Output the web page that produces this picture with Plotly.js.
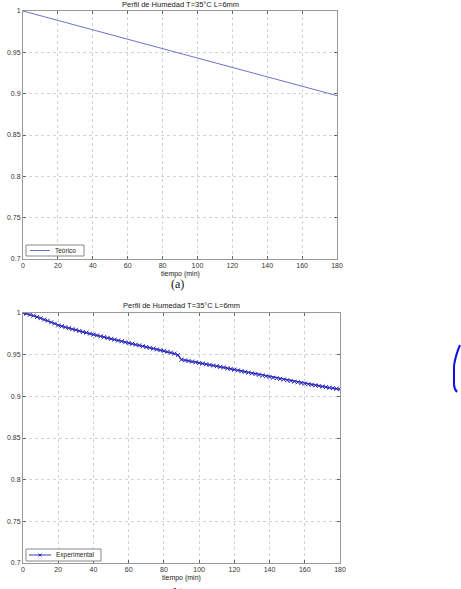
<!DOCTYPE html>
<html><head><meta charset="utf-8">
<script src="https://cdn.plot.ly/plotly-3.0.1.min.js"></script>
<style>html,body{margin:0;padding:0;background:#fff;}#c{width:461px;height:589px;}</style>
</head><body><div id="c"></div>
<script>
var chartTitle = "Perfil de Humedad T=35°C L=6mm";
var xLabel = "tiempo (min)";
var legendNames = ["Teórico", "Experimental"];
var xTicks = [0,20,40,60,80,100,120,140,160,180];
var yTicks = [0.7,0.75,0.8,0.85,0.9,0.95,1];
var yTickText = ["0.7","0.75","0.8","0.85","0.9","0.95","1"];

var teoricoT = [0,20,40,60,80,100,120,140,160,180];
var teoricoY = [1.0000,0.9886,0.9772,0.9659,0.9545,0.9431,0.9318,0.9204,0.9090,0.8976];

var expT = [0,2,4,6,8,10,12,14,16,18,20,22,24,26,28,30,32,34,36,38,40,42,44,46,48,50,52,54,56,58,60,62,64,66,68,70,72,74,76,78,80,82,84,86,88,90,92,94,96,98,100,102,104,106,108,110,112,114,116,118,120,122,124,126,128,130,132,134,136,138,140,142,144,146,148,150,152,154,156,158,160,162,164,166,168,170,172,174,176,178,180];
var expY = [1.0000,0.9993,0.9980,0.9968,0.9952,0.9938,0.9921,0.9908,0.9888,0.9872,0.9852,0.9841,0.9830,0.9818,0.9806,0.9797,0.9784,0.9772,0.9764,0.9752,0.9740,0.9731,0.9720,0.9711,0.9700,0.9690,0.9681,0.9670,0.9661,0.9649,0.9640,0.9631,0.9620,0.9612,0.9601,0.9592,0.9582,0.9573,0.9563,0.9554,0.9545,0.9535,0.9524,0.9512,0.9495,0.9440,0.9432,0.9425,0.9416,0.9409,0.9400,0.9393,0.9385,0.9377,0.9370,0.9361,0.9354,0.9346,0.9337,0.9329,0.9320,0.9311,0.9302,0.9294,0.9285,0.9276,0.9268,0.9259,0.9250,0.9241,0.9232,0.9224,0.9217,0.9209,0.9201,0.9193,0.9185,0.9177,0.9169,0.9160,0.9152,0.9145,0.9139,0.9132,0.9125,0.9118,0.9111,0.9104,0.9098,0.9091,0.9084];

var lineTeo = '#7070c8', lineExp = '#3a3ad0', markExp = '#2a2ab8';
var traces = [
  {x: teoricoT, y: teoricoY, xaxis:'x', yaxis:'y', mode:'lines', name:legendNames[0],
   line:{color:lineTeo, width:1}},
  {x: expT, y: expY, xaxis:'x2', yaxis:'y2', mode:'lines+markers', name:legendNames[1],
   line:{color:lineExp, width:1.5}, marker:{symbol:'x-thin', size:4, color:markExp, line:{color:markExp, width:1}}}
];

var fam = 'Liberation Sans, Arial, sans-serif';
var axFont = {family:fam, size:7, color:'#333'};
function xa(dom, anchor){ return {domain:dom, anchor:anchor, range:[0,180], tickvals:xTicks, ticks:'inside', ticklen:3, tickcolor:'#666',
  showline:true, linecolor:'#999', linewidth:1, mirror:'ticks', showgrid:true, gridcolor:'#d2d2d2', griddash:'dot', gridwidth:1,
  zeroline:false, tickfont:axFont, fixedrange:true}; }
function ya(dom, anchor){ return {domain:dom, anchor:anchor, range:[0.7,1], tickvals:yTicks, ticktext:yTickText, ticks:'inside', ticklen:3, tickcolor:'#666',
  showline:true, linecolor:'#999', linewidth:1, mirror:'ticks', showgrid:true, gridcolor:'#d2d2d2', griddash:'dot', gridwidth:1,
  zeroline:false, tickfont:axFont, fixedrange:true}; }

var H = 552, W = 317, L = 23, T = 11;
function px(x){ return (x-L)/W; }
function py(y){ return 1-(y-T)/H; }
var topDom = [py(259), 1];
var botDom = [0, py(313)];

var shapes = [
  // legend (a)
  {type:'rect', xref:'paper', yref:'paper', x0:px(26), x1:px(84), y0:py(256), y1:py(245), line:{color:'#888', width:1}, fillcolor:'#fff'},
  {type:'line', xref:'paper', yref:'paper', x0:px(30), x1:px(50), y0:py(250.5), y1:py(250.5), line:{color:lineTeo, width:1}},
  // legend (b)
  {type:'rect', xref:'paper', yref:'paper', x0:px(26), x1:px(101), y0:py(561), y1:py(549), line:{color:'#888', width:1}, fillcolor:'#fff'},
  {type:'line', xref:'paper', yref:'paper', x0:px(29), x1:px(51), y0:py(555), y1:py(555), line:{color:lineExp, width:1}},
  {type:'path', xref:'paper', yref:'paper', path:'M '+px(38.5)+' '+py(553.5)+' L '+px(41.5)+' '+py(556.5)+' M '+px(38.5)+' '+py(556.5)+' L '+px(41.5)+' '+py(553.5), line:{color:markExp, width:1}},
  // hand-drawn brace at the right edge
  {type:'path', xref:'paper', yref:'paper', path:'M '+px(460)+' '+py(345)+' C '+px(457)+' '+py(352)+' '+px(455)+' '+py(358)+' '+px(454)+' '+py(366)+' L '+px(454)+' '+py(384)+' C '+px(454)+' '+py(388)+' '+px(455)+' '+py(390)+' '+px(457)+' '+py(392),
   line:{color:'#1010e0', width:2}}
];

var annFont = {family:fam, size:7.5, color:'#222'};
var layout = {
  width:461, height:589, margin:{l:L, r:121, t:T, b:26}, paper_bgcolor:'#fff', plot_bgcolor:'#fff',
  showlegend:false,
  xaxis: xa([0, 314/W], 'y'),
  yaxis: ya(topDom, 'x'),
  xaxis2: xa([0,1], 'y2'),
  yaxis2: ya(botDom, 'x2'),
  annotations: [
    {text:chartTitle, xref:'paper', yref:'paper', x:px(180), y:py(4.5), xanchor:'center', yanchor:'middle', showarrow:false, font:annFont},
    {text:xLabel, xref:'paper', yref:'paper', x:px(180), y:py(273.5), xanchor:'center', yanchor:'middle', showarrow:false, font:{family:fam, size:7, color:'#222'}},
    {text:'(a)', xref:'paper', yref:'paper', x:px(177), y:py(284), xanchor:'center', yanchor:'middle', showarrow:false,
     font:{family:'Liberation Serif, Times New Roman, serif', size:12, color:'#111'}},
    {text:chartTitle, xref:'paper', yref:'paper', x:px(181), y:py(305.5), xanchor:'center', yanchor:'middle', showarrow:false, font:annFont},
    {text:xLabel, xref:'paper', yref:'paper', x:px(181), y:py(577.5), xanchor:'center', yanchor:'middle', showarrow:false, font:{family:fam, size:7, color:'#222'}},
    {text:'(b)', xref:'paper', yref:'paper', x:px(177), y:py(584), xanchor:'center', yanchor:'top', showarrow:false,
     font:{family:'Liberation Serif, Times New Roman, serif', size:12, color:'#111'}},
    {text:legendNames[0], xref:'paper', yref:'paper', x:px(53), y:py(250.5), xanchor:'left', yanchor:'middle', showarrow:false,
     font:{family:fam, size:6.5, color:'#222'}},
    {text:legendNames[1], xref:'paper', yref:'paper', x:px(54), y:py(555), xanchor:'left', yanchor:'middle', showarrow:false,
     font:{family:fam, size:6.5, color:'#222'}}
  ],
  shapes: shapes
};

Plotly.newPlot('c', traces, layout, {displayModeBar:false, staticPlot:true});
</script></body></html>
